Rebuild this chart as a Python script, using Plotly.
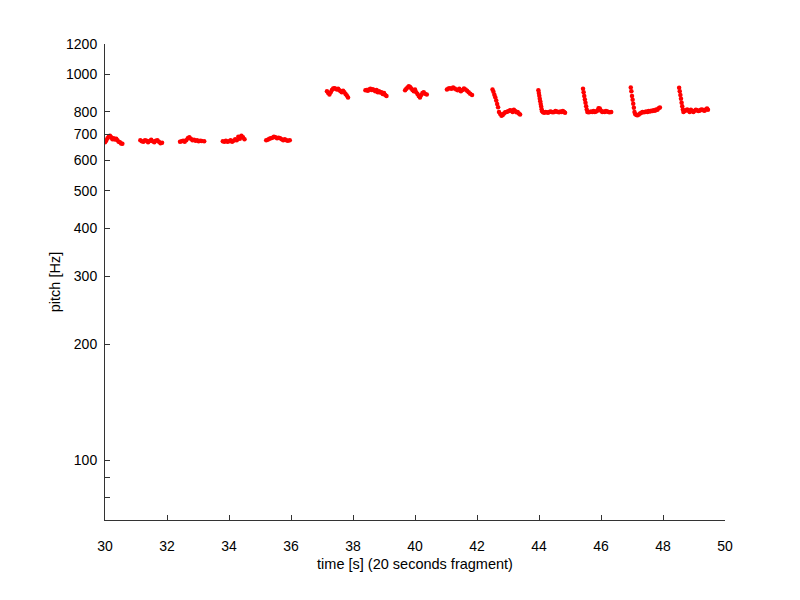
import plotly.graph_objects as go
import math

# ---- data: pitch track segments (time [s], pitch [Hz]) ----
seg1_t = [30.00,30.04,30.08,30.12,30.16,30.20,30.24,30.28,30.32,30.36,30.40,30.44,30.48,30.52,30.56]
seg1_f = [668,675,684,690,694,688,680,684,679,682,676,670,668,663,662]

seg2_t = [31.14,31.19,31.24,31.29,31.34,31.39,31.44,31.49,31.54,31.59,31.64,31.69,31.74,31.79,31.84]
seg2_f = [676,672,670,676,674,668,673,678,672,668,674,676,670,664,666]

seg3_t = [32.42,32.47,32.52,32.57,32.62,32.67,32.72,32.77,32.82,32.87,32.92,32.97,33.02,33.07,33.12,33.20]
seg3_f = [670,672,674,670,676,684,688,682,676,678,674,676,672,674,673,672]

seg4_t = [33.80,33.85,33.90,33.95,34.00,34.05,34.10,34.15,34.20,34.25,34.30,34.35,34.40,34.45,34.50]
seg4_f = [672,670,674,670,672,676,670,674,680,676,690,682,694,688,680]

seg5_t = [35.20,35.25,35.30,35.35,35.40,35.45,35.50,35.55,35.60,35.65,35.70,35.75,35.80,35.85,35.90,35.96]
seg5_f = [676,678,682,684,686,690,688,684,686,684,680,676,680,676,674,676]

seg6_t = [37.16,37.20,37.24,37.28,37.32,37.36,37.40,37.44,37.48,37.52,37.56,37.60,37.64,37.68,37.72,37.76,37.80,37.84]
seg6_f = [905,895,888,900,912,920,922,918,915,918,910,905,900,908,900,890,882,872]

seg7_t = [38.40,38.44,38.48,38.52,38.56,38.60,38.64,38.68,38.72,38.76,38.80,38.84,38.88,38.92,38.96,39.00,39.04,39.08]
seg7_f = [910,912,908,915,918,912,916,910,905,912,900,905,898,900,890,895,885,880]

seg8_t = [39.68,39.72,39.76,39.80,39.84,39.88,39.92,39.96,40.00,40.04,40.08,40.12,40.16,40.20,40.24,40.28,40.32,40.38]
seg8_f = [910,918,925,932,928,920,912,905,915,900,890,880,872,885,895,900,892,888]

seg9_t = [41.03,41.08,41.13,41.18,41.23,41.28,41.33,41.38,41.43,41.48,41.53,41.58,41.63,41.68,41.73,41.78,41.84]
seg9_f = [915,920,922,918,925,920,915,910,918,905,912,920,915,908,900,892,885]

seg10_t = [42.50,42.53,42.56,42.59,42.62,42.65,42.68,
           42.71,42.75,42.79,42.83,42.87,42.91,42.95,42.99,43.03,43.07,43.11,43.15,43.19,43.23,43.27,43.31,43.35,43.39]
seg10_f = [914,902,887,873,856,839,823,
           800,790,782,785,792,798,800,802,805,808,806,800,810,804,798,800,792,788]

seg11_t = [43.98,43.995,44.01,44.025,44.04,44.055,44.07,44.085,44.10,
           44.13,44.17,44.21,44.25,44.29,44.33,44.37,44.41,44.45,44.49,44.53,44.57,44.61,44.65,44.69,44.73,44.77,44.81,44.84]
seg11_f = [910,895,881,866,852,839,826,813,803,
           798,796,800,798,796,800,802,800,798,800,804,802,800,798,802,800,804,800,796]

seg12_t = [45.42,45.44,45.46,45.48,45.50,45.52,45.54,
           45.56,45.60,45.64,45.68,45.72,45.76,45.80,45.84,45.88,45.92,45.96,46.00,46.04,46.08,46.12,46.16,46.20,46.24,46.28,46.33]
seg12_f = [918,900,880,862,845,828,812,
           800,798,800,802,800,804,800,802,806,818,816,806,800,802,800,804,802,800,798,800]

seg13_t = [46.96,46.98,47.00,47.02,47.04,47.06,47.08,
           47.10,47.14,47.18,47.22,47.26,47.30,47.34,47.38,47.42,47.46,47.50,47.54,47.58,47.62,47.66,47.70,47.74,47.78,47.82,47.86,47.90]
seg13_f = [925,905,880,860,840,820,800,
           790,786,784,788,792,796,800,798,800,802,800,804,802,806,804,808,806,812,810,818,822]

seg14_t = [48.52,48.54,48.56,48.58,48.60,48.62,48.64,
           48.66,48.70,48.74,48.78,48.82,48.86,48.90,48.94,48.98,49.02,49.06,49.10,49.14,49.18,49.22,49.26,49.30,49.34,49.38,49.42,49.45]
seg14_f = [924,905,885,865,845,828,812,
           800,804,808,812,806,800,810,804,800,806,810,808,804,806,810,812,808,806,812,816,810]

segments_t = [seg1_t, seg2_t, seg3_t, seg4_t, seg5_t, seg6_t, seg7_t,
              seg8_t, seg9_t, seg10_t, seg11_t, seg12_t, seg13_t, seg14_t]
segments_f = [seg1_f, seg2_f, seg3_f, seg4_f, seg5_f, seg6_f, seg7_f,
              seg8_f, seg9_f, seg10_f, seg11_f, seg12_f, seg13_f, seg14_f]

x_ticks = [30, 32, 34, 36, 38, 40, 42, 44, 46, 48, 50]
y_ticks = [70, 80, 90, 100, 200, 300, 400, 500, 600, 700, 800, 1000, 1200]
y_tick_labels = ["", "", "", "100", "200", "300", "400", "500", "600", "700", "800", "1000", "1200"]

all_t = [t for seg in segments_t for t in seg]
all_f = [f for seg in segments_f for f in seg]

fig = go.Figure()
fig.add_trace(go.Scatter(
    x=all_t, y=all_f, mode="markers",
    marker=dict(color="#ff0000", size=4.5, line=dict(width=0)),
    showlegend=False,
))

axis_color = "#333333"
font = dict(family="Liberation Sans, Arial, sans-serif", size=14, color="#000000")
title_font = dict(family="Liberation Sans, Arial, sans-serif", size=14.5, color="#000000")

fig.update_layout(
    width=800, height=600,
    margin=dict(l=105, r=75, t=44, b=80, autoexpand=False),
    paper_bgcolor="white", plot_bgcolor="white",
    font=font,
    xaxis=dict(
        range=[30, 50], tickvals=x_ticks, ticktext=[str(v) for v in x_ticks],
        ticks="inside", ticklen=5, tickcolor=axis_color, tickwidth=1,
        showline=True, linecolor=axis_color, linewidth=1,
        showgrid=False, zeroline=False, mirror=False, automargin=False,
        ticklabelstandoff=13,
        title=dict(text="time [s] (20 seconds fragment)", standoff=6, font=title_font),
    ),
    yaxis=dict(
        type="log", range=[math.log10(70), math.log10(1200)],
        tickvals=y_ticks, ticktext=y_tick_labels,
        ticks="inside", ticklen=5, tickcolor=axis_color, tickwidth=1,
        showline=True, linecolor=axis_color, linewidth=1,
        showgrid=False, zeroline=False, mirror=False, automargin=False,
        ticklabelstandoff=4,
        title=dict(text="pitch [Hz]", standoff=1, font=title_font),
    ),
)

fig.write_html(
    "out.html",
    config={"displayModeBar": False},
    post_script="document.body.style.margin='0';document.body.style.overflow='hidden';",
)
